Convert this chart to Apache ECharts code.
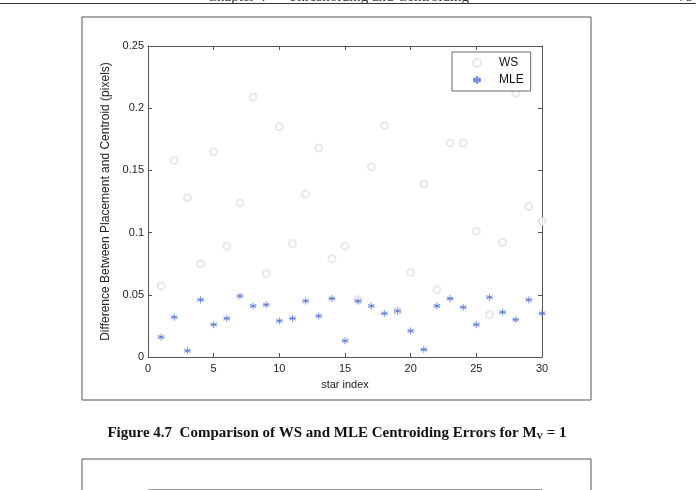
<!DOCTYPE html>
<html>
<head>
<meta charset="utf-8">
<script src="https://cdn.jsdelivr.net/npm/echarts@6/dist/echarts.min.js"></script>
<style>
  html, body { margin: 0; padding: 0; background: #fff; }
  #chart { width: 696px; height: 490px; }
</style>
</head>
<body>
<div id="chart"></div>
<script>
// star indices 1..30
const starIndex = [1, 2, 3, 4, 5, 6, 7, 8, 9, 10, 11, 12, 13, 14, 15,
                   16, 17, 18, 19, 20, 21, 22, 23, 24, 25, 26, 27, 28, 29, 30];

// WS centroid error (pixels)
const wsError = [0.057, 0.158, 0.128, 0.075, 0.165, 0.089, 0.124, 0.209, 0.067, 0.185,
                 0.091, 0.131, 0.168, 0.079, 0.089, 0.046, 0.153, 0.186, 0.037, 0.068,
                 0.139, 0.054, 0.172, 0.172, 0.101, 0.034, 0.092, 0.212, 0.121, 0.109];

// MLE centroid error (pixels)
const mleError = [0.016, 0.032, 0.005, 0.046, 0.026, 0.031, 0.049, 0.041, 0.042, 0.029,
                  0.031, 0.045, 0.033, 0.047, 0.013, 0.045, 0.041, 0.035, 0.037, 0.021,
                  0.006, 0.041, 0.047, 0.040, 0.026, 0.048, 0.036, 0.030, 0.046, 0.035];

const xTicks = [0, 5, 10, 15, 20, 25, 30];
const yTicks = [0, 0.05, 0.1, 0.15, 0.2, 0.25];

const chart = echarts.init(document.getElementById('chart'), null, { renderer: 'canvas' });

const axisGrey = '#555';
const labelFont = { fontFamily: 'Liberation Sans', fontSize: 11, color: '#222' };
const asterisk = 'path://M0,-5L0,5M-4.33,-2.5L4.33,2.5M-4.33,2.5L4.33,-2.5M-5,0L5,0';

const pair = (xs, ys) => xs.map((x, i) => [x, ys[i]]);

// shared look of the box axes (MATLAB style: ticks pointing in)
const boxAxis = {
    axisLine: { show: true, onZero: false, lineStyle: { color: axisGrey, width: 1 } },
    axisTick: { show: true, inside: true, length: 4, lineStyle: { color: axisGrey } },
    splitLine: { show: false }
};

const option = {
    backgroundColor: '#fff',
    animation: false,
    grid: { left: 148, right: 154, top: 46, bottom: 133 },
    xAxis: [
        {
            type: 'value', min: 0, max: 30, interval: 5,
            name: 'star index', nameLocation: 'middle', nameGap: 22,
            nameTextStyle: { ...labelFont },
            ...boxAxis,
            axisLabel: { ...labelFont, margin: 6, formatter: v => xTicks.includes(v) ? String(v) : '' }
        },
        {
            type: 'value', min: 0, max: 30, interval: 5, position: 'top',
            ...boxAxis,
            axisLabel: { show: false }
        }
    ],
    yAxis: [
        {
            type: 'value', min: 0, max: 0.25, interval: 0.05,
            name: 'Difference Between Placement and Centroid (pixels)',
            nameLocation: 'middle', nameGap: 36,
            nameTextStyle: { ...labelFont, fontSize: 12 },
            ...boxAxis,
            axisLabel: { ...labelFont, margin: 4, formatter: v => {
                const t = yTicks.find(k => Math.abs(k - v) < 1e-9);
                return t === undefined ? '' : String(t);
            } }
        },
        {
            type: 'value', min: 0, max: 0.25, interval: 0.05, position: 'right',
            ...boxAxis,
            axisLabel: { show: false }
        }
    ],
    legend: {
        orient: 'vertical',
        left: 452, top: 52,
        padding: [5, 7, 5, 20],
        itemWidth: 10, itemHeight: 8, itemGap: 5,
        backgroundColor: '#fff',
        borderColor: '#444', borderWidth: 0.8, borderRadius: 0,
        textStyle: { fontFamily: 'Liberation Sans', fontSize: 12, color: '#111', padding: [0, 0, 0, 12] },
        data: ['WS', 'MLE']
    },
    series: [
        {
            name: 'WS', type: 'scatter',
            symbol: 'emptyCircle', symbolSize: 7,
            itemStyle: { color: '#e2e2e2', borderWidth: 1 },
            data: pair(starIndex, wsError),
            z: 2
        },
        {
            name: 'MLE', type: 'scatter',
            symbol: asterisk, symbolSize: 7,
            itemStyle: { color: 'rgba(0,0,0,0)', borderColor: '#5073d6', borderWidth: 1 },
            data: pair(starIndex, mleError),
            z: 3
        }
    ],
    graphic: [
        // running header, cut off at the top of the scan
        { type: 'line', shape: { x1: 0, y1: 3.5, x2: 696, y2: 3.5 }, style: { stroke: '#333', lineWidth: 1 } },
        { type: 'text', x: 338, y: 5, style: { text: 'Chapter 4 \u2014 Thresholding and Centroiding', fontFamily: 'Liberation Serif', fontSize: 15, fill: '#333', align: 'center', verticalAlign: 'bottom' } },
        { type: 'text', x: 686, y: 5, style: { text: '79', fontFamily: 'Liberation Serif', fontSize: 15, fill: '#333', align: 'center', verticalAlign: 'bottom' } },
        // figure frame
        { type: 'rect', shape: { x: 82, y: 17, width: 509, height: 383 }, style: { fill: 'none', stroke: '#555', lineWidth: 1 }, z: -1 },
        // caption
        {
            type: 'text', x: 337, y: 433,
            style: {
                text: '{b|Figure 4.7  Comparison of WS and MLE Centroiding Errors for M}{s|V}{b| = 1}',
                align: 'center', verticalAlign: 'middle',
                rich: {
                    b: { fontFamily: 'Liberation Serif', fontWeight: 'bold', fontSize: 15, fill: '#111' },
                    s: { fontFamily: 'Liberation Serif', fontWeight: 'bold', fontSize: 9, fill: '#111', padding: [7, 0, 0, 0] }
                }
            }
        },
        // next figure's frame, cut off at the bottom
        { type: 'rect', shape: { x: 82, y: 459, width: 509, height: 60 }, style: { fill: 'none', stroke: '#555', lineWidth: 1 } },
        { type: 'line', shape: { x1: 148, y1: 489.5, x2: 542, y2: 489.5 }, style: { stroke: '#999', lineWidth: 1 } }
    ]
};

chart.setOption(option);
</script>
</body>
</html>
